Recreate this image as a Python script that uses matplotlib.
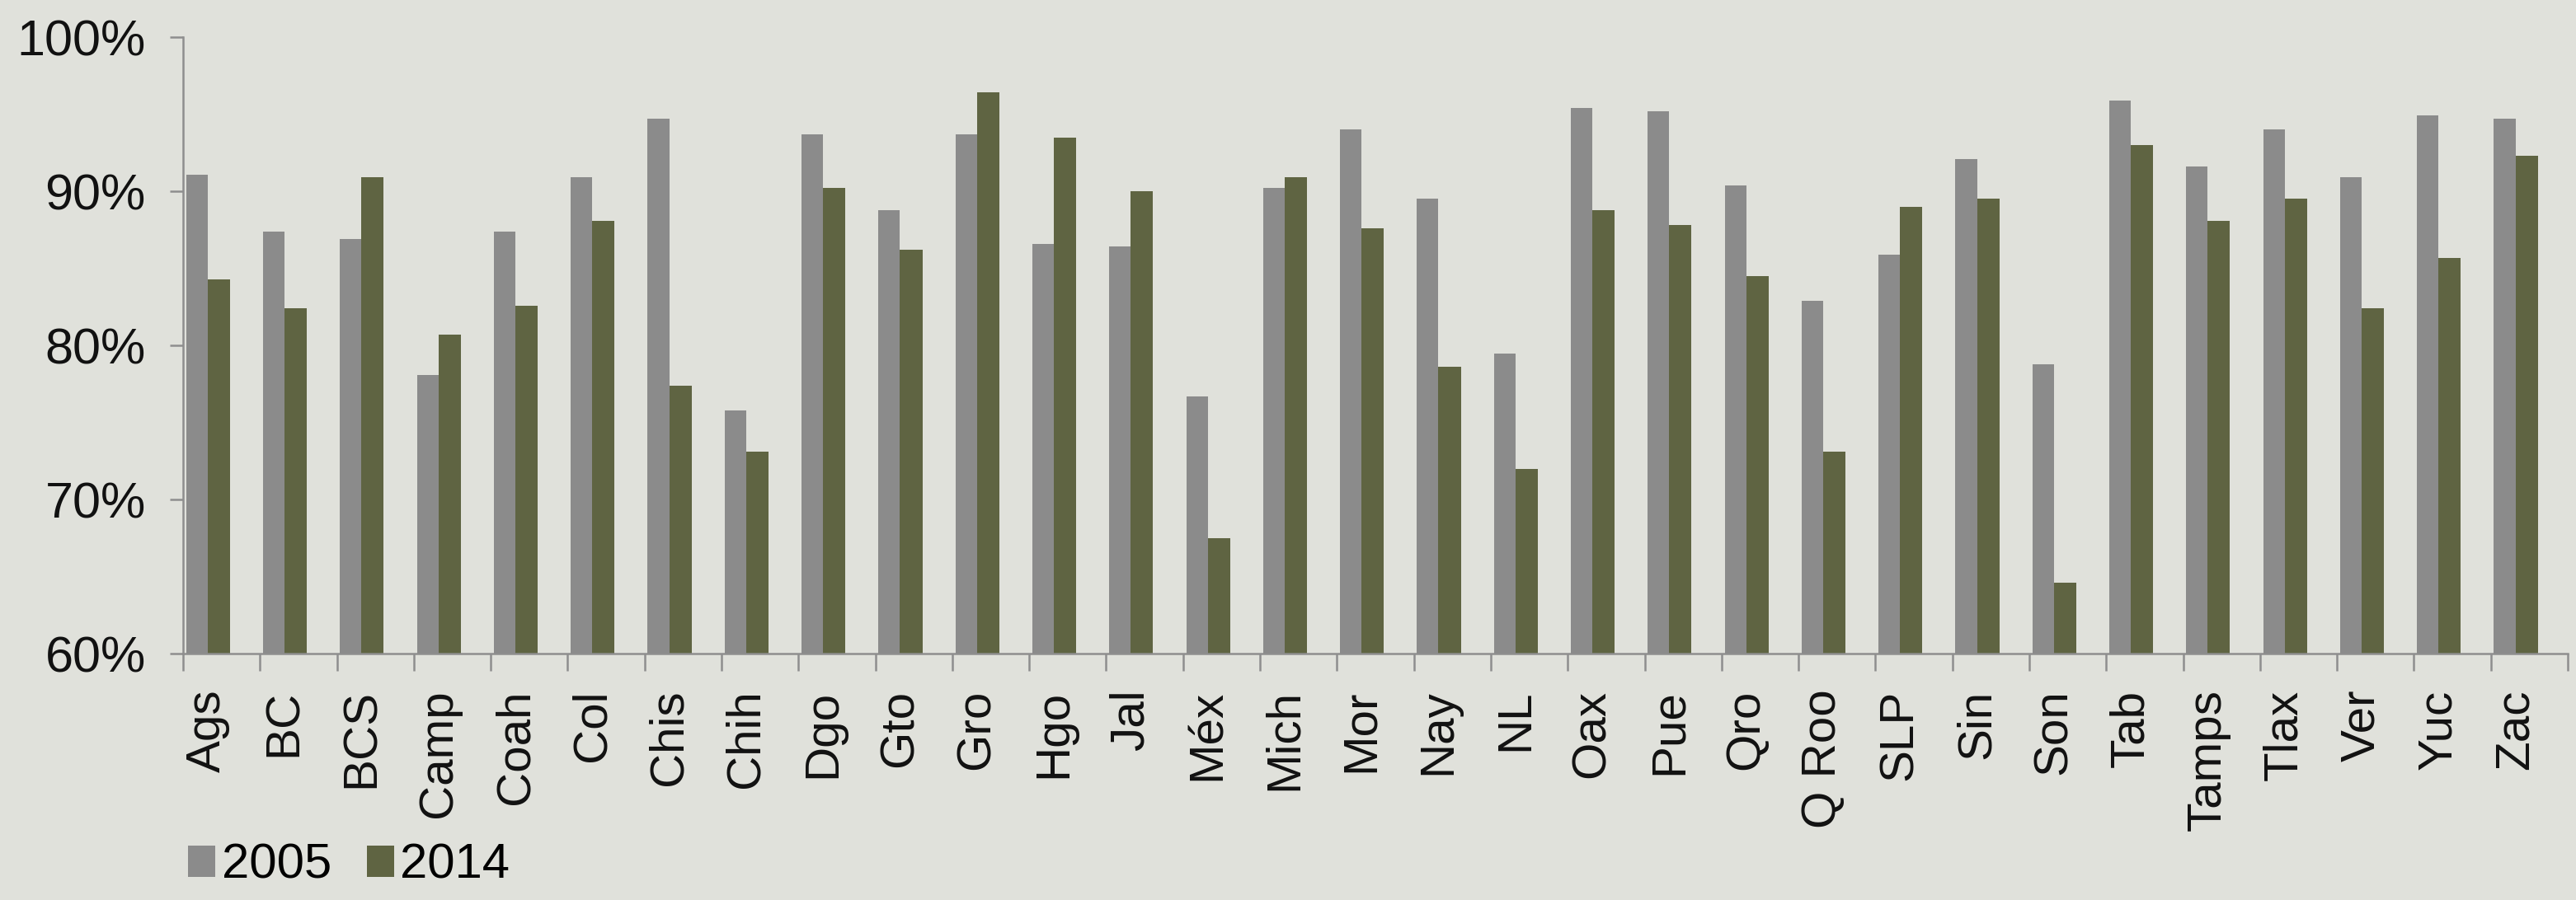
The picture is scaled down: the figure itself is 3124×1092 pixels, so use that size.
import matplotlib
matplotlib.use("Agg")
import matplotlib.pyplot as plt
import numpy as np

states = ['Ags', 'BC', 'BCS', 'Camp', 'Coah', 'Col', 'Chis', 'Chih', 'Dgo', 'Gto',
          'Gro', 'Hgo', 'Jal', 'Méx', 'Mich', 'Mor', 'Nay', 'NL', 'Oax', 'Pue',
          'Qro', 'Q Roo', 'SLP', 'Sin', 'Son', 'Tab', 'Tamps', 'Tlax', 'Ver', 'Yuc', 'Zac']

vals_2005 = [91.1, 87.4, 86.9, 78.1, 87.4, 90.9, 94.7, 75.8, 93.7, 88.8,
             93.7, 86.6, 86.4, 76.7, 90.2, 94.0, 89.5, 79.5, 95.4, 95.2,
             90.4, 82.9, 85.9, 92.1, 78.8, 95.9, 91.6, 94.0, 90.9, 94.9, 94.7]

vals_2014 = [84.3, 82.4, 90.9, 80.7, 82.6, 88.1, 77.4, 73.1, 90.2, 86.2,
             96.4, 93.5, 90.0, 67.5, 90.9, 87.6, 78.6, 72.0, 88.8, 87.8,
             84.5, 73.1, 89.0, 89.5, 64.6, 93.0, 88.1, 89.5, 82.4, 85.7, 92.3]

series_names = ['2005', '2014']

bg = '#e0e1db'
grey = '#8b8b8b'
green = '#5f6442'
axis_col = '#8e8e8e'

plt.rcParams['font.family'] = ['Liberation Sans', 'DejaVu Sans']

fig = plt.figure(figsize=(31.24, 10.92), dpi=100, facecolor=bg)
ax = fig.add_axes([222 / 3124, 1 - 793.4 / 1092, (3114 - 222) / 3124, (793.4 - 45) / 1092])
ax.set_facecolor(bg)

x = np.arange(len(states))
ax.bar(x + 0.04, vals_2005, width=0.28, align='edge', color=grey, label=series_names[0])
ax.bar(x + 0.32, vals_2014, width=0.29, align='edge', color=green, label=series_names[1])

ax.set_xlim(0, len(states))
ax.set_ylim(60, 100)

for s in ['top', 'right']:
    ax.spines[s].set_visible(False)
for s in ['left', 'bottom']:
    ax.spines[s].set_color(axis_col)
    ax.spines[s].set_linewidth(1.8)

ax.set_yticks([60, 70, 80, 90, 100])
ax.set_yticklabels(['%d%%' % v for v in [60, 70, 80, 90, 100]])
ax.tick_params(axis='y', direction='out', length=11.5, width=1.8, color=axis_col,
               labelsize=44, pad=21, labelcolor='#111111')

ax.set_xticks(np.arange(len(states) + 1))
ax.set_xticklabels([])
ax.tick_params(axis='x', which='major', direction='out', length=15, width=1.8, color=axis_col)
ax.set_xticks(x + 0.32, minor=True)
ax.set_xticklabels(states, minor=True, rotation=90)
ax.tick_params(axis='x', which='minor', length=0, labelsize=42, pad=31, labelcolor='#111111')

fig.legend(loc='lower left', bbox_to_anchor=(228 / 3124, 14 / 1092), ncol=2, frameon=False,
           fontsize=43, handlelength=0.56, handleheight=0.6, handletextpad=0.12,
           columnspacing=0.72, borderpad=0, borderaxespad=0)

fig.savefig('out.png', dpi=100, facecolor=bg)
